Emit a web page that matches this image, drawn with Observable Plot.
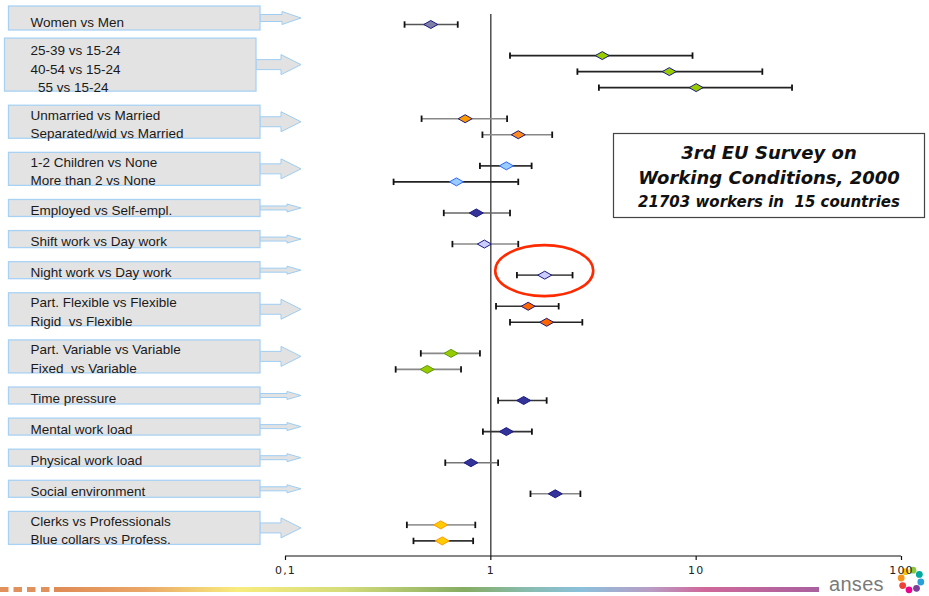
<!DOCTYPE html>
<html>
<head>
<meta charset="utf-8">
<script src="https://cdn.jsdelivr.net/npm/d3@7"></script>
<script src="https://cdn.jsdelivr.net/npm/@observablehq/plot@0.6"></script>
<style>
  html, body { margin: 0; padding: 0; background: #fff; overflow: hidden; }
</style>
</head>
<body>
<div id="chart"></div>
<script>
// ---- Data ----
const labels = [
  "Women vs Men",
  "25-39 vs 15-24", "40-54 vs 15-24", "\u00a0\u00a055 vs 15-24",
  "Unmarried vs Married", "Separated/wid vs Married",
  "1-2 Children vs None", "More than 2 vs None",
  "Employed vs Self-empl.",
  "Shift work vs Day work",
  "Night work vs Day work",
  "Part. Flexible vs Flexible", "Rigid \u00a0vs Flexible",
  "Part. Variable vs Variable", "Fixed \u00a0vs Variable",
  "Time pressure",
  "Mental work load",
  "Physical work load",
  "Social environment",
  "Clerks vs Professionals", "Blue collars vs Profess."
];
const groupOf  = [0, 1, 1, 1, 2, 2, 3, 3, 4, 5, 6, 7, 7, 8, 8, 9, 10, 11, 12, 13, 13];
const estimate = [0.51, 3.49, 7.4, 10.0, 0.75, 1.36, 1.19, 0.68, 0.85, 0.93, 1.83, 1.52, 1.87, 0.64, 0.49, 1.445, 1.19, 0.80, 2.06, 0.57, 0.58];
const lower    = [0.38, 1.24, 2.64, 3.36, 0.46, 0.91, 0.885, 0.336, 0.59, 0.65, 1.34, 1.06, 1.24, 0.456, 0.344, 1.085, 0.915, 0.60, 1.56, 0.39, 0.42];
const upper    = [0.69, 9.6, 21.0, 29.3, 1.20, 1.99, 1.58, 1.36, 1.24, 1.36, 2.50, 2.14, 2.79, 0.885, 0.716, 1.87, 1.585, 1.085, 2.73, 0.84, 0.82];
const xTicks   = [0.1, 1, 10, 100];
const xTickLabels = ["0,1", "1", "10", "100"];
const highlighted = "Night work vs Day work";
const titleLines = ["3rd EU Survey on", "Working Conditions, 2000", "21703 workers in  15 countries"];

// ---- Styles (separate from data) ----
const markerFill = ["#7f7fa8", "#99cc00", "#99cc00", "#99cc00", "#ff9900", "#ff8a1e", "#99ccff", "#99ccff",
  "#333399", "#ccccff", "#ccccff", "#ff6600", "#ff6600", "#99cc00", "#99cc00", "#333399", "#333399", "#333399", "#333399", "#ffcc00", "#ffcc00"];
const markerStroke = ["#1a1a80", "#1a1a80", "#1a1a80", "#1a1a80", "#1a1a80", "#1a1a80", "#3366ff", "#3366ff",
  "#1a1a80", "#1a1a80", "#1a1a80", "#1a1a80", "#1a1a80", "#5c9900", "#5c9900", "#1a1a80", "#1a1a80", "#1a1a80", "#1a1a80", "#ff9900", "#ff9900"];
const lineColor = ["#555", "#222", "#222", "#222", "#888", "#888", "#333", "#222",
  "#666", "#888", "#555", "#333", "#222", "#888", "#888", "#333", "#333", "#777", "#888", "#999", "#333"];

// ---- Build rows: group gap = 1 unit, rows inside a group 0.515 unit apart ----
const UNIT = 31.1;
let extra = 0;
const rows = labels.map((label, i) => {
  if (i > 0 && groupOf[i] === groupOf[i - 1]) extra++;
  return {
    label, group: groupOf[i], pos: groupOf[i] + extra * 0.515,
    est: estimate[i], lo: lower[i], hi: upper[i],
    fill: markerFill[i], stroke: markerStroke[i], line: lineColor[i]
  };
});
const groups = d3.groups(rows, d => d.group).map(([g, rs]) => ({g, first: rs[0].pos, last: rs[rs.length - 1].pos, n: rs.length}));
// label text lines: centred on their group, a little more spread than the rows
for (const gr of groups) {
  const rs = rows.filter(d => d.group === gr.g);
  const mean = d3.mean(rs, d => d.pos);
  rs.forEach((d, k) => { d.textPos = mean + (k - (rs.length - 1) / 2) * 18.5 / UNIT; });
}

// wide diamond symbol
const wideDiamond = {
  draw(ctx, size) {
    const r = Math.sqrt(size / Math.PI);
    const h = r * 0.57;
    ctx.moveTo(-r, 0); ctx.lineTo(0, -h); ctx.lineTo(r, 0); ctx.lineTo(0, h); ctx.closePath();
  }
};
// vertical cap symbol
const capSymbol = {
  draw(ctx, size) {
    const r = Math.sqrt(size / Math.PI);
    ctx.moveTo(0, -r); ctx.lineTo(0, r);
  }
};

// Left label boxes + arrows, title box, footer (decoration)
function decorations(index, scales, values, dims) {
  const y = scales.y;
  const g = d3.create("svg:g").attr("text-anchor", "start");
  for (const gr of groups) {
    const top = y(gr.first) - (gr.g === 0 ? 18 : gr.n === 3 ? 17 : 13);
    const bottom = y(gr.last) + (gr.g === 0 ? 6 : 4);
    const h = bottom - top;
    const cy = (top + bottom) / 2;
    const left = gr.n === 3 ? 4.5 : 8.5;
    const right = gr.n === 3 ? 256 : 260;
    const big = h > 28, mid = h > 20;
    const headH = big ? 20 : mid ? 13 : 8, shaftH = big ? 10 : mid ? 7 : 4, headLen = big ? 20 : mid ? 19 : 14;
    const tip = 301;
    const path = [
      [right, cy - shaftH / 2], [tip - headLen, cy - shaftH / 2], [tip - headLen, cy - headH / 2],
      [tip, cy], [tip - headLen, cy + headH / 2], [tip - headLen, cy + shaftH / 2], [right, cy + shaftH / 2]
    ];
    g.append("path").attr("d", "M" + path.join("L") + "Z")
      .attr("fill", "#e2e2e2").attr("stroke", "#9fcdf2").attr("stroke-width", 1);
    g.append("rect").attr("x", left).attr("y", top).attr("width", right - left).attr("height", h)
      .attr("fill", "#e3e3e3").attr("stroke", "#a8d2f4").attr("stroke-width", 1.3);
  }
  // title box
  g.append("rect").attr("x", 613.5).attr("y", 133.5).attr("width", 311).attr("height", 84)
    .attr("fill", "white").attr("stroke", "#444").attr("stroke-width", 1.2);
  const tt = g.append("g").attr("font-family", "'DejaVu Sans', Verdana, sans-serif")
    .attr("font-weight", "bold").attr("font-style", "italic").attr("text-anchor", "middle").attr("fill", "#111")
    .style("white-space", "pre");
  tt.append("text").attr("x", 769).attr("y", 159).attr("font-size", 18).text(titleLines[0]);
  tt.append("text").attr("x", 769).attr("y", 184).attr("font-size", 18).text(titleLines[1]);
  tt.append("text").attr("x", 769).attr("y", 207).attr("font-size", 15).text(titleLines[2]);

  // axis base line
  const xs = scales.x;
  const yb = dims.height - dims.marginBottom;
  g.append("line").attr("x1", xs(0.1)).attr("x2", xs(100)).attr("y1", yb).attr("y2", yb)
    .attr("stroke", "#111").attr("stroke-width", 1.2);

  // footer gradient bar
  const defs = g.append("defs");
  const grad = defs.append("linearGradient").attr("id", "footGrad").attr("x1", "0").attr("x2", "1").attr("y1", "0").attr("y2", "0");
  [[0, "#df8a55"], [0.12, "#eba868"], [0.24, "#f8ec7e"], [0.38, "#d4dc7a"], [0.536, "#86ac62"],
   [0.62, "#88bcb0"], [0.69, "#8cc0dc"], [0.78, "#b89cc4"], [0.85, "#d0689a"], [1, "#a8609e"]]
    .forEach(([o, c]) => grad.append("stop").attr("offset", o).attr("stop-color", c));
  [0, 13.5, 27, 41].forEach(x0 => g.append("rect").attr("x", x0).attr("y", 587).attr("width", 8.5).attr("height", 5).attr("fill", "#e0915c"));
  g.append("rect").attr("x", 54).attr("y", 587).attr("width", 765).attr("height", 5).attr("fill", "url(#footGrad)");

  // anses logo
  g.append("text").attr("x", 829).attr("y", 591).attr("text-anchor", "start")
    .attr("font-family", "'Liberation Sans', Arial, sans-serif")
    .attr("font-size", 20).attr("fill", "#7a7a7a").attr("letter-spacing", 0.3).text("anses");
  const lc = [911, 580];
  const ringColors = ["#f7c600", "#8cc63f", "#00a99d", "#2a9fd8", "#7b3f98", "#ec008c", "#ee4036", "#f7941d"];
  ringColors.forEach((c, i) => {
    const a = -Math.PI / 2 - Math.PI / 4 + i * Math.PI * 2 / 8 + 0.2;
    g.append("circle").attr("cx", lc[0] + 10 * Math.cos(a)).attr("cy", lc[1] + 10 * Math.sin(a)).attr("r", 3.4).attr("fill", c);
  });
  return g.node();
}

// Red highlight ellipse around one row
function highlight(index, scales) {
  const r = rows.find(d => d.label === highlighted);
  const g = d3.create("svg:g");
  g.append("ellipse").attr("cx", scales.x(r.est)).attr("cy", scales.y(r.pos) - 4)
    .attr("rx", 49).attr("ry", 25.5).attr("fill", "none").attr("stroke", "#ff2a00").attr("stroke-width", 2.6);
  return g.node();
}

const plot = Plot.plot({
  width: 929,
  height: 596,
  marginLeft: 285,
  marginRight: 28,
  marginTop: 14,
  marginBottom: 40,
  style: { background: "white", fontFamily: "'Liberation Sans', Arial, sans-serif" },
  x: { type: "log", domain: [0.1, 100], label: null },
  y: { domain: [0, 17], range: [24, 24 + 17 * UNIT], axis: null },
  marks: [
    decorations,
    Plot.text(rows, {
      y: "textPos", text: "label", frameAnchor: "left", dx: -255, dy: -2, textAnchor: "start",
      fontSize: 13.5, fill: "#1a1a1a", fontFamily: "'Liberation Sans', Arial, sans-serif"
    }),
    Plot.ruleX([1], { stroke: "#222", strokeWidth: 1.2 }),
    Plot.axisX({
      ticks: xTicks, tickFormat: (d) => xTickLabels[xTicks.indexOf(d)], tickSize: 4, tickPadding: 6,
      fontSize: 11, fontFamily: "'DejaVu Sans', sans-serif", fill: "#222", stroke: "#111", strokeWidth: 1.2
    }),
    Plot.ruleY(rows, { y: "pos", x1: "lo", x2: "hi", stroke: "line", strokeWidth: 1.6 }),
    Plot.dot(rows, { x: "lo", y: "pos", symbol: capSymbol, r: 3.2, stroke: "#111", strokeWidth: 1.8, fill: "none" }),
    Plot.dot(rows, { x: "hi", y: "pos", symbol: capSymbol, r: 3.2, stroke: "#111", strokeWidth: 1.8, fill: "none" }),
    Plot.dot(rows, { x: "est", y: "pos", symbol: wideDiamond, r: 7, fill: "fill", stroke: "stroke", strokeWidth: 1 }),
    highlight
  ]
});
d3.select(plot).selectAll("g[aria-label='x-axis tick label'] text").attr("letter-spacing", 1.2);
document.getElementById("chart").appendChild(plot);
</script>
</body>
</html>
